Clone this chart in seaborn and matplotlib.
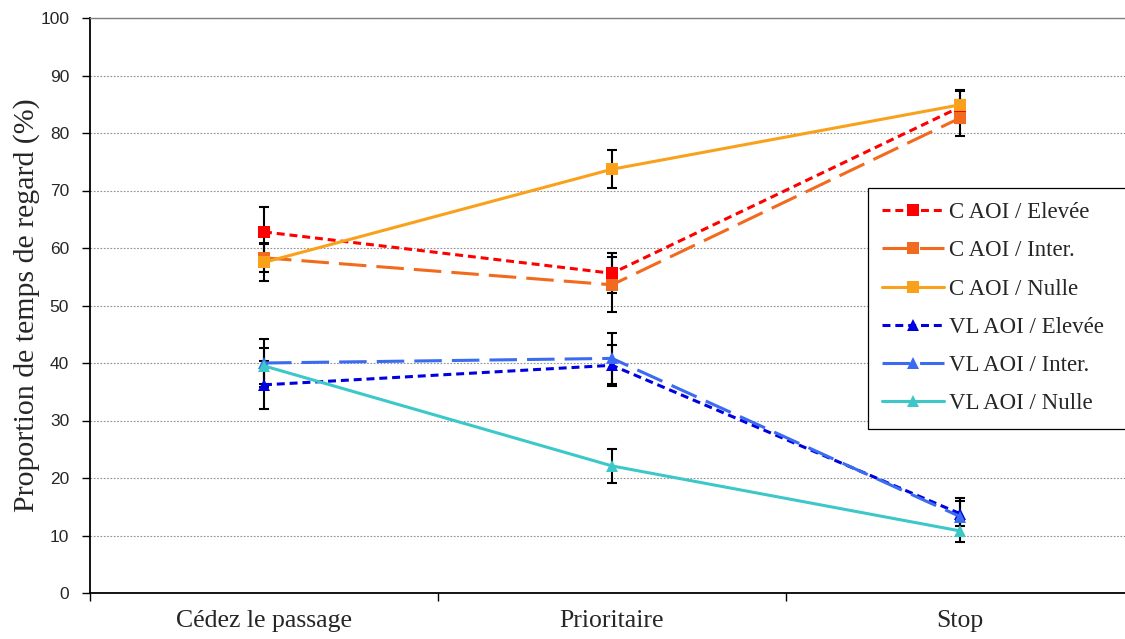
import pandas as pd
import matplotlib
matplotlib.use("Agg")
import matplotlib.pyplot as plt
import seaborn as sns

# categories (x axis)
categories = ['Cédez le passage', 'Prioritaire', 'Stop']

# series values (%) and error bars
c_elevee = [62.8, 55.6, 84.5]
c_elevee_err = [4.3, 3.5, 2.8]
c_inter = [58.3, 53.6, 82.6]
c_inter_err = [2.4, 4.8, 3.1]
c_nulle = [57.5, 73.7, 84.9]
c_nulle_err = [3.3, 3.3, 2.6]
vl_elevee = [36.2, 39.6, 13.8]
vl_elevee_err = [4.2, 3.6, 2.2]
vl_inter = [40.0, 40.8, 13.3]
vl_inter_err = [4.2, 4.4, 3.3]
vl_nulle = [39.5, 22.1, 10.8]
vl_nulle_err = [3.1, 3.0, 1.9]

series_names = ['C AOI / Elevée', 'C AOI / Inter.', 'C AOI / Nulle',
                'VL AOI / Elevée', 'VL AOI / Inter.', 'VL AOI / Nulle']
series_vals = [c_elevee, c_inter, c_nulle, vl_elevee, vl_inter, vl_nulle]
series_errs = [c_elevee_err, c_inter_err, c_nulle_err,
               vl_elevee_err, vl_inter_err, vl_nulle_err]

yticks = [0, 10, 20, 30, 40, 50, 60, 70, 80, 90, 100]

# long-form table for seaborn
rows = []
for name, vals, errs in zip(series_names, series_vals, series_errs):
    for i, (v, e) in enumerate(zip(vals, errs)):
        rows.append({'serie': name, 'x': i, 'val': v, 'err': e})
df = pd.DataFrame(rows)

palette = {
    'C AOI / Elevée': '#FF0000',
    'C AOI / Inter.': '#F26A1E',
    'C AOI / Nulle': '#F9A11B',
    'VL AOI / Elevée': '#0000E0',
    'VL AOI / Inter.': '#3A6BF0',
    'VL AOI / Nulle': '#3CC8C8',
}
dashes = {
    'C AOI / Elevée': (2.6, 1.6),
    'C AOI / Inter.': (9, 3.3),
    'C AOI / Nulle': '',
    'VL AOI / Elevée': (2.6, 1.6),
    'VL AOI / Inter.': (9, 3.3),
    'VL AOI / Nulle': '',
}
markers = {
    'C AOI / Elevée': 's', 'C AOI / Inter.': 's', 'C AOI / Nulle': 's',
    'VL AOI / Elevée': '^', 'VL AOI / Inter.': '^', 'VL AOI / Nulle': '^',
}

sns.set_style('white')
plt.rcParams['font.family'] = ['Liberation Serif', 'DejaVu Serif']

fig = plt.figure(figsize=(11.25, 6.39), dpi=100)
ax = fig.add_axes([90 / 1125, 46 / 639, 1044 / 1125, 575 / 639])

sns.lineplot(data=df, x='x', y='val', hue='serie', style='serie',
             hue_order=series_names, style_order=series_names,
             palette=palette, dashes=dashes, markers=markers,
             markersize=8.5, markeredgewidth=0, linewidth=2.2,
             ax=ax, zorder=3)

# error bars
for name in series_names:
    sub = df[df['serie'] == name]
    ax.errorbar(sub['x'], sub['val'], yerr=sub['err'], fmt='none',
                ecolor='black', elinewidth=1.5, capsize=3.5, capthick=1.5,
                zorder=2)

ax.set_xlim(-0.5, 2.5)
ax.set_ylim(0, 100)
ax.set_yticks(yticks)
ax.set_yticklabels([str(t) for t in yticks], family='Liberation Sans', fontsize=12.5)
ax.tick_params(axis='y', direction='out', length=6, width=1, color='black', pad=9, left=True)

# x ticks at the boundaries, labels at the centres
ax.set_xticks([-0.5, 0.5, 1.5, 2.5])
ax.set_xticklabels([])
ax.set_xticks([0, 1, 2], minor=True)
ax.set_xticklabels(categories, minor=True, fontsize=18.5)
ax.tick_params(axis='x', which='major', direction='out', length=6, width=1, color='black', bottom=True)
ax.tick_params(axis='x', which='minor', length=0, pad=12)

ax.set_xlabel('')
ax.set_ylabel('Proportion de temps de regard (%)', fontsize=21.5)
ax.yaxis.set_label_coords(-0.048, 0.5)

ax.grid(axis='y', linestyle=(0, (1.5, 1.5)), color='#909090', linewidth=0.8)
ax.grid(axis='x', visible=False)
ax.set_axisbelow(True)
for side in ['left', 'bottom']:
    ax.spines[side].set_color('black')
    ax.spines[side].set_linewidth(1.3)
ax.spines['top'].set_color('#808080')
ax.spines['top'].set_linewidth(1.0)
ax.spines['right'].set_visible(False)

# legend box runs past the right edge of the picture, as in the original
handles, labels = ax.get_legend_handles_labels()
leg_x0 = 868 / 1125
leg_w = (1150 - 868) / 1125
leg_top = 1 - 188 / 639
leg = ax.legend(handles, labels, loc='upper left', mode='expand',
                bbox_to_anchor=(leg_x0, leg_top - 0.3, leg_w, 0.3),
                bbox_transform=fig.transFigure, borderaxespad=0,
                fontsize=16.5, frameon=True, fancybox=False, edgecolor='black',
                framealpha=1, borderpad=0.62, labelspacing=0.75,
                handlelength=2.7, handletextpad=0.2)
leg.get_frame().set_linewidth(0.9)

fig.savefig('out.png', dpi=100)
